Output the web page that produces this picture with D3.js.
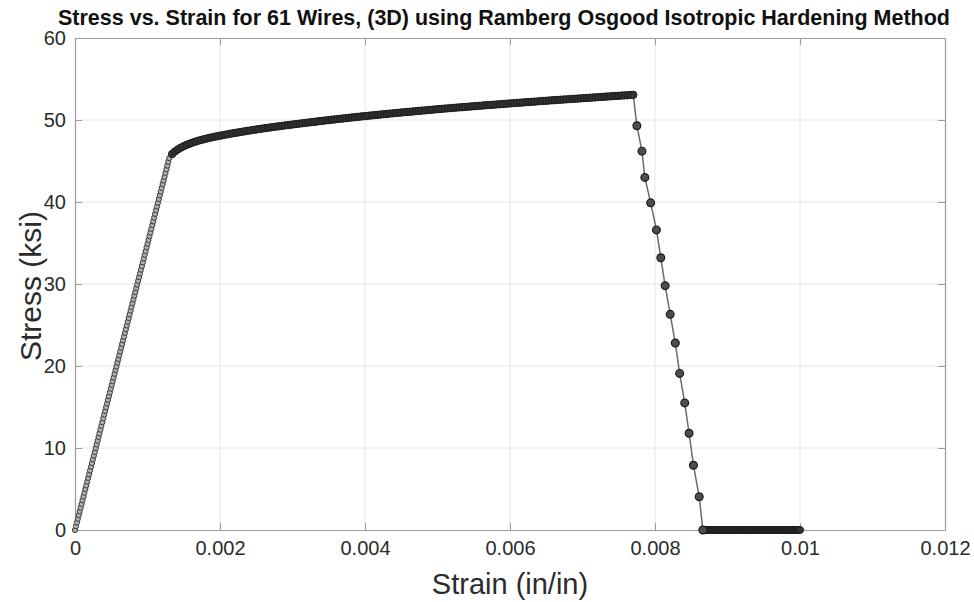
<!DOCTYPE html>
<html>
<head>
<meta charset="utf-8">
<script src="https://cdn.jsdelivr.net/npm/d3@7"></script>
<style>
  body { margin: 0; background: #fff; }
  svg { display: block; font-family: "Liberation Sans", Arial, sans-serif; }
</style>
</head>
<body>
<svg id="chart" width="974" height="602"></svg>
<script>
// Strain is recorded in microstrain (in/in x 1e-6); stress in ksi.

// Linear-elastic loading branch
const elasticStrainMicro = [0,13,26,39,52,65,78,91,104,117,130,143,156,169,182,195,208,221,234,247,260,273,286,299,312,325,338,351,364,377,390,403,416,429,442,455,468,481,494,507,520,533,546,559,572,585,598,611,624,637,650,663,676,689,702,715,728,741,754,767,780,793,806,819,832,845,858,871,884,897,910,923,936,949,962,975,988,1001,1014,1027,1040,1053,1066,1079,1092,1105,1118,1131,1144,1157,1170,1183,1196,1209,1222,1235,1248,1261,1274,1287,1300];
const elasticStress = [0,0.45,0.91,1.36,1.81,2.27,2.72,3.17,3.63,4.08,4.54,4.99,5.44,5.90,6.35,6.80,7.26,7.71,8.16,8.62,9.07,9.52,9.98,10.43,10.88,11.34,11.79,12.24,12.70,13.15,13.61,14.06,14.51,14.97,15.42,15.87,16.33,16.78,17.23,17.69,18.14,18.59,19.05,19.50,19.95,20.41,20.86,21.31,21.77,22.22,22.68,23.13,23.58,24.04,24.49,24.94,25.40,25.85,26.30,26.76,27.21,27.66,28.12,28.57,29.02,29.48,29.93,30.38,30.84,31.29,31.75,32.20,32.65,33.11,33.56,34.01,34.47,34.92,35.37,35.83,36.28,36.73,37.19,37.64,38.09,38.55,39.00,39.45,39.91,40.36,40.82,41.27,41.72,42.18,42.63,43.08,43.54,43.99,44.44,44.90,45.35];

// Ramberg-Osgood hardening branch
const hardeningStrainMicro = [1340,1380,1420,1460,1500,1540,1580,1620,1660,1700,1740,1780,1820,1860,1900,1940,1980,2020,2060,2100,2140,2180,2220,2260,2300,2340,2380,2420,2460,2500,2540,2580,2620,2660,2700,2740,2780,2820,2860,2900,2940,2980,3020,3060,3100,3140,3180,3220,3260,3300,3340,3380,3420,3460,3500,3540,3580,3620,3660,3700,3740,3780,3820,3860,3900,3940,3980,4020,4060,4100,4140,4180,4220,4260,4300,4340,4380,4420,4460,4500,4540,4580,4620,4660,4700,4740,4780,4820,4860,4900,4940,4980,5020,5060,5100,5140,5180,5220,5260,5300,5340,5380,5420,5460,5500,5540,5580,5620,5660,5700,5740,5780,5820,5860,5900,5940,5980,6020,6060,6100,6140,6180,6220,6260,6300,6340,6380,6420,6460,6500,6540,6580,6620,6660,6700,6740,6780,6820,6860,6900,6940,6980,7020,7060,7100,7140,7180,7220,7260,7300,7340,7380,7420,7460,7500,7540,7580,7620,7660,7700];
const hardeningStress = [45.85,46.17,46.42,46.63,46.81,46.97,47.11,47.24,47.36,47.47,47.57,47.66,47.75,47.83,47.91,47.98,48.05,48.12,48.19,48.25,48.32,48.38,48.44,48.50,48.56,48.62,48.68,48.73,48.79,48.84,48.90,48.95,49.00,49.05,49.10,49.15,49.20,49.24,49.29,49.34,49.38,49.43,49.47,
  49.52,49.56,49.61,49.65,49.69,49.74,49.78,49.82,49.87,49.91,49.95,49.99,50.03,50.07,50.11,50.15,50.19,50.23,50.27,50.31,50.34,50.38,50.42,50.46,50.49,
  50.53,50.57,50.60,50.64,50.67,50.71,50.74,50.78,50.81,50.85,50.88,50.91,50.95,50.98,51.01,51.04,51.08,51.11,51.14,51.17,51.20,51.23,51.27,51.30,51.33,
  51.36,51.39,51.42,51.45,51.48,51.51,51.54,51.56,51.59,51.62,51.65,51.68,51.71,51.73,51.76,51.79,51.82,51.84,51.87,51.90,51.92,51.95,51.98,52.01,52.03,
  52.06,52.09,52.11,52.14,52.17,52.19,52.22,52.24,52.27,52.30,52.32,52.35,52.37,52.40,52.42,52.45,52.47,52.50,52.52,52.55,52.57,52.59,52.62,52.64,52.67,
  52.69,52.71,52.74,52.76,52.79,52.81,52.84,52.86,52.88,52.91,52.93,52.95,52.98,53.00,53.02,53.05,53.07];

// Wire-break unloading branch
const unloadStrainMicro = [7750,7820,7860,7940,8020,8080,8140,8210,8280,8340,8410,8470,8530,8610,8660];
const unloadStress = [49.3,46.2,43.0,39.9,36.6,33.2,29.8,26.3,22.8,19.1,15.5,11.8,7.9,4.05,0];

// Post-failure branch (no load carried)
const tailStrainMicro = [8680,8700,8720,8740,8760,8780,8800,8820,8840,8860,8880,8900,8920,8940,8960,8980,9000,9020,9040,9060,9080,9100,9120,9140,9160,9180,9200,9220,9240,9260,9280,9300,9320,9340,9360,9380,9400,9420,9440,9460,9480,9500,9520,9540,9560,9580,9600,9620,9640,9660,9680,9700,9720,9740,9760,9780,9800,9820,9840,9860,9880,9900,9920,9940,9960,9980,10000];
const tailStress = [0,0,0,0,0,0,0,0,0,0,0,0,0,0,0,0,0,0,0,0,0,0,0,0,0,0,0,0,0,0,0,0,0,0,0,0,0,0,0,0,0,0,0,0,0,0,0,0,0,0,0,0,0,0,0,0,0,0,0,0,0,0,0,0,0,0,0];

const xTicks = [0, 0.002, 0.004, 0.006, 0.008, 0.010, 0.012];
const xTickLabels = ["0", "0.002", "0.004", "0.006", "0.008", "0.01", "0.012"];
const yTicks = [0, 10, 20, 30, 40, 50, 60];
const yTickLabels = ["0", "10", "20", "30", "40", "50", "60"];

const titleText = "Stress vs. Strain for 61 Wires, (3D) using Ramberg Osgood Isotropic Hardening Method";
const xLabelText = "Strain (in/in)";
const yLabelText = "Stress (ksi)";

// ---- layout ----
const svg = d3.select("#chart");
const plot = { left: 75, right: 945, top: 38, bottom: 530 };

const x = d3.scaleLinear().domain([0, 0.012]).range([plot.left, plot.right]);
const y = d3.scaleLinear().domain([0, 60]).range([plot.bottom, plot.top]);

const toPoints = (strainMicro, stress) =>
  d3.zip(strainMicro, stress).map(([e, s]) => ({ e: e / 1e6, s }));

const elastic = toPoints(elasticStrainMicro, elasticStress);
const hardening = toPoints(hardeningStrainMicro, hardeningStress);
const unload = toPoints(unloadStrainMicro, unloadStress);
const tail = toPoints(tailStrainMicro, tailStress);
const allPoints = [...elastic, ...hardening, ...unload, ...tail];

// grid
const grid = svg.append("g");
grid.selectAll("line.gx").data(xTicks.slice(1, -1)).join("line")
  .attr("x1", d => x(d)).attr("x2", d => x(d))
  .attr("y1", plot.top).attr("y2", plot.bottom)
  .attr("stroke", "#e6e6e6").attr("stroke-width", 1);
grid.selectAll("line.gy").data(yTicks.slice(1, -1)).join("line")
  .attr("y1", d => y(d)).attr("y2", d => y(d))
  .attr("x1", plot.left).attr("x2", plot.right)
  .attr("stroke", "#e6e6e6").attr("stroke-width", 1);

// axes (ticks point inward, box on)
const frameColor = "#9a9a9a";
const labelColor = "#2b2b2b";
function styleAxis(g) {
  g.selectAll("path.domain").attr("stroke", frameColor).attr("stroke-width", 1.2);
  g.selectAll(".tick line").attr("stroke", frameColor).attr("stroke-width", 1);
  g.selectAll(".tick text").attr("fill", labelColor).attr("font-size", 20)
    .attr("font-family", "'Liberation Sans', Arial, sans-serif");
}
svg.append("g").attr("transform", `translate(0,${plot.bottom})`)
  .call(d3.axisBottom(x).tickValues(xTicks).tickSizeInner(-7).tickSizeOuter(0).tickPadding(11)
    .tickFormat((d, i) => xTickLabels[i]))
  .call(styleAxis);
svg.append("g").attr("transform", `translate(0,${plot.top})`)
  .call(d3.axisTop(x).tickValues(xTicks).tickSizeInner(-7).tickSizeOuter(0).tickFormat(""))
  .call(styleAxis);
svg.append("g").attr("transform", `translate(${plot.left},0)`)
  .call(d3.axisLeft(y).tickValues(yTicks).tickSizeInner(-7).tickSizeOuter(0).tickPadding(9)
    .tickFormat((d, i) => yTickLabels[i]))
  .call(styleAxis);
svg.append("g").attr("transform", `translate(${plot.right},0)`)
  .call(d3.axisRight(y).tickValues(yTicks).tickSizeInner(-7).tickSizeOuter(0).tickFormat(""))
  .call(styleAxis);

// connecting line
const line = d3.line().x(d => x(d.e)).y(d => y(d.s));
svg.append("path").datum(allPoints)
  .attr("d", line).attr("fill", "none")
  .attr("stroke", "#6a6a6a").attr("stroke-width", 1.5);

// markers
function drawMarkers(data, r, fill, stroke, sw) {
  svg.append("g").selectAll("circle").data(data).join("circle")
    .attr("cx", d => x(d.e)).attr("cy", d => y(d.s)).attr("r", r)
    .attr("fill", fill).attr("stroke", stroke).attr("stroke-width", sw);
}
drawMarkers(elastic, 2.6, "#b0b0b0", "#3a3a3a", 1);
drawMarkers(hardening, 3.7, "#333", "#1a1a1a", 1);
drawMarkers(tail, 3.5, "#333", "#1a1a1a", 1);
drawMarkers(unload, 3.9, "#4d4d4d", "#1a1a1a", 1.2);

// title and axis labels
svg.append("text")
  .attr("x", 504).attr("y", 25).attr("text-anchor", "middle")
  .attr("font-size", 22).attr("font-weight", "bold").attr("fill", "#111")
  .attr("textLength", 892).attr("lengthAdjust", "spacingAndGlyphs")
  .text(titleText);

svg.append("text")
  .attr("x", 510).attr("y", 594).attr("text-anchor", "middle")
  .attr("font-size", 29).attr("fill", labelColor)
  .text(xLabelText);

svg.append("text")
  .attr("transform", "translate(41,286) rotate(-90)")
  .attr("text-anchor", "middle")
  .attr("font-size", 30).attr("fill", labelColor)
  .text(yLabelText);
</script>
</body>
</html>
